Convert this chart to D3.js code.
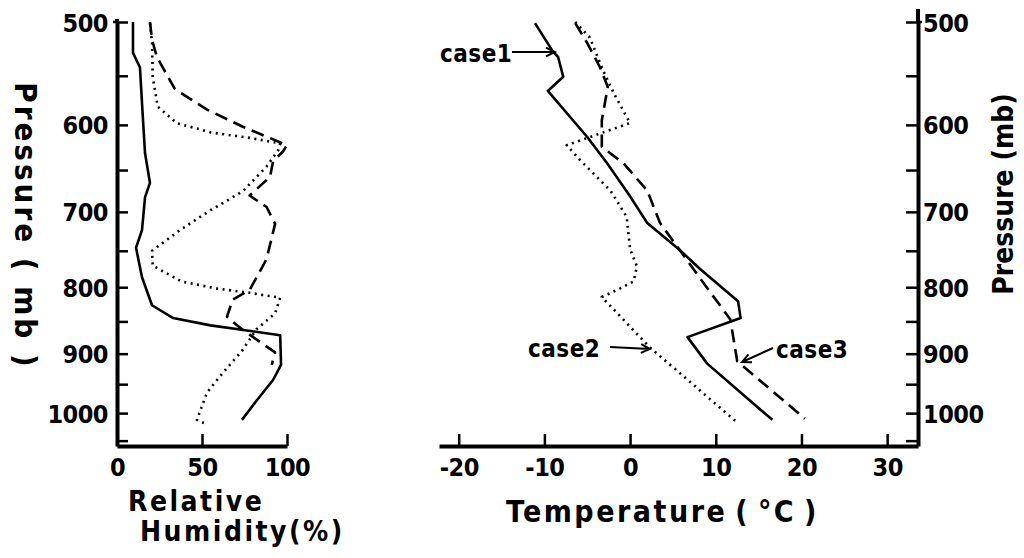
<!DOCTYPE html>
<html>
<head>
<meta charset="UTF-8">
<title>Soundings</title>
<script src="https://d3js.org/d3.v7.min.js"></script>
<style>
  body { margin: 0; background: #fff; }
  svg text {
    font-family: "DejaVu Sans Condensed", "DejaVu Sans", sans-serif;
    font-stretch: condensed;
    font-weight: bold;
    fill: #000;
  }
  .axis path, .axis line { stroke: #000; }
  .axis text { font-size: 25px; }
</style>
</head>
<body>
<svg id="chart" width="1024" height="558"></svg>
<script>
// pressure ticks (mb)
const pTicks = [500, 550, 600, 650, 700, 750, 800, 850, 900, 950, 1000, 1050];
const rhTicks = [0, 50, 100];
const tTicks = [-20, -10, 0, 10, 20, 30];

// relative humidity (%) profiles
const rh1P = [500, 528, 542, 595, 631, 665, 682, 723, 746, 786, 826, 845, 856, 871, 918, 943, 977, 1012];
const rh1  = [9.4, 9.4, 13.5, 15.3, 16.5, 19.4, 16.5, 14.7, 11.2, 14.7, 20.6, 33, 55, 96, 96.5, 91.8, 82.4, 73.5];
const rh2P = [501, 519, 551, 581, 598, 608, 614, 620, 627, 646, 675, 698, 723, 750, 770, 792, 802, 808, 815, 838, 862, 894, 932, 964, 1012, 1021];
const rh2  = [19.4, 20.6, 21, 24, 35, 55, 78, 96, 95, 88, 74, 55, 37, 20.6, 21, 38, 59, 78, 96, 93, 82, 74, 62, 53, 47, 53.5];
const rh3P = [500, 516, 532, 563, 584, 602, 622, 629, 640, 658, 680, 694, 715, 761, 804, 818, 843, 862, 898, 918];
const rh3  = [19.4, 20.6, 23.5, 34, 53, 74, 100, 97.6, 91.8, 90, 78, 88, 93, 88, 78, 68, 64.7, 73.5, 93, 91];

// temperature (degC) profiles
const t1P = [501, 527, 532, 551, 565, 613, 642, 681, 714, 749, 775, 820, 845, 874, 916, 1012];
const t1  = [-11.1, -9.0, -8.4, -7.8, -9.6, -5.0, -2.7, 0, 2.0, 5.8, 8.2, 12.6, 12.9, 6.7, 9.0, 16.6];
const t2P = [500, 514, 544, 569, 598, 622, 639, 674, 706, 748, 771, 792, 802, 814, 890, 1018];
const t2  = [-6.4, -4.7, -3.2, -1.8, 0, -7.4, -5.8, -2.3, -0.4, 0, 0.8, 0.4, -1.2, -3.3, 2.3, 12.6];
const t3P = [501, 519, 542, 561, 595, 624, 642, 674, 714, 746, 788, 847, 912, 1010];
const t3  = [-6.4, -5.0, -3.5, -2.6, -3.3, -3.3, -0.8, 2.0, 3.5, 5.6, 8.2, 11.7, 12.5, 20.4];

const svg = d3.select('#chart');

const y = d3.scaleLog().domain([500, 1060]).range([22, 446]);
const xRH = d3.scaleLinear().domain([0, 100]).range([117, 287]);
const xT = d3.scaleLinear().domain([-22.3, 33.6]).range([439, 918]);

const fmtP = d => d % 100 === 0 ? d : '';

// left pressure axis
const gL = svg.append('g').attr('class', 'axis')
  .attr('transform', `translate(${xRH(0)},0)`)
  .call(d3.axisLeft(y).tickValues(pTicks).tickFormat(fmtP).tickSize(-11).tickSizeOuter(0).tickPadding(9));
// bottom RH axis
const gB1 = svg.append('g').attr('class', 'axis')
  .attr('transform', `translate(0,${y(1060)})`)
  .call(d3.axisBottom(xRH).tickValues(rhTicks).tickSize(-12).tickSizeOuter(0).tickPadding(12));
// right pressure axis
const gR = svg.append('g').attr('class', 'axis')
  .attr('transform', `translate(${xT(33.6)},0)`)
  .call(d3.axisRight(y).tickValues(pTicks).tickFormat(fmtP).tickSize(-12).tickSizeOuter(0).tickPadding(5));
// bottom temperature axis
const gB2 = svg.append('g').attr('class', 'axis')
  .attr('transform', `translate(0,${y(1060)})`)
  .call(d3.axisBottom(xT).tickValues(tTicks).tickFormat(d => d < 0 ? '-' + Math.abs(d) : d)
    .tickSize(-12).tickSizeOuter(0).tickPadding(12));

[gL, gB1, gR, gB2].forEach(g => {
  g.select('.domain').attr('stroke-width', 4);
  g.selectAll('.tick line').attr('stroke-width', 2.5);
});
gL.selectAll('.tick text').attr('dy', '0.36em').style('letter-spacing', '-0.5px');
gR.selectAll('.tick text').attr('dy', '0.36em').style('letter-spacing', '-0.5px');
gB1.selectAll('.tick text').attr('dy', '0.72em').style('letter-spacing', '-0.5px');
gB2.selectAll('.tick text').attr('dy', '0.72em').style('letter-spacing', '-0.5px');

// axis extensions above 500 mb
svg.append('line').attr('x1', xRH(0)).attr('x2', xRH(0)).attr('y1', 19).attr('y2', y(500))
  .attr('stroke', '#000').attr('stroke-width', 4);
svg.append('line').attr('x1', xT(33.6)).attr('x2', xT(33.6)).attr('y1', 9).attr('y2', y(500))
  .attr('stroke', '#000').attr('stroke-width', 4);
svg.append('line').attr('x1', xRH(0) - 4).attr('x2', xRH(0)).attr('y1', y(500)).attr('y2', y(500))
  .attr('stroke', '#000').attr('stroke-width', 2.5);
svg.append('line').attr('x1', xT(33.6)).attr('x2', xT(33.6) + 4).attr('y1', y(500)).attr('y2', y(500))
  .attr('stroke', '#000').attr('stroke-width', 2.5);

const styles = {
  solid: null,
  dashed: '13,7',
  dotted: '2,4.5'
};

function profile(ps, vs, x, dash) {
  const line = d3.line().x(d => x(d[1])).y(d => y(d[0]));
  svg.append('path')
    .datum(ps.map((p, i) => [p, vs[i]]))
    .attr('d', line)
    .attr('fill', 'none')
    .attr('stroke', '#000')
    .attr('stroke-width', 2.6)
    .attr('stroke-linejoin', 'round')
    .attr('stroke-dasharray', dash);
}

profile(rh1P, rh1, xRH, styles.solid);
profile(rh2P, rh2, xRH, styles.dotted);
profile(rh3P, rh3, xRH, styles.dashed);
profile(t1P, t1, xT, styles.solid);
profile(t2P, t2, xT, styles.dotted);
profile(t3P, t3, xT, styles.dashed);

// titles
svg.append('text')
  .attr('transform', 'translate(15,226) rotate(90)')
  .attr('text-anchor', 'middle')
  .style('font-size', '31px').style('letter-spacing', '3px')
  .text('Pressure ( mb )');
svg.append('text')
  .attr('transform', 'translate(1013,194) rotate(-90)')
  .attr('text-anchor', 'middle')
  .style('font-size', '28px')
  .text('Pressure (mb)');
svg.append('text').attr('x', 128).attr('y', 511)
  .style('font-size', '28px').style('letter-spacing', '2.5px')
  .text('Relative');
svg.append('text').attr('x', 140).attr('y', 541)
  .style('font-size', '28px').style('letter-spacing', '2.5px')
  .text('Humidity(%)');
svg.append('text').attr('x', 506).attr('y', 522)
  .style('font-size', '30px').style('letter-spacing', '2.5px')
  .style('word-spacing', '-4px')
  .text('Temperature ( °C )');

// case labels with arrows
const arrows = [
  { text: 'case1', tx: 440, ty: 62, x1: 512, y1: 52, x2: 555, y2: 52 },
  { text: 'case2', tx: 528, ty: 357, x1: 610, y1: 347, x2: 650, y2: 349 },
  { text: 'case3', tx: 776, ty: 358, x1: 773, y1: 348, x2: 742, y2: 362 }
];
arrows.forEach(a => {
  svg.append('text').attr('x', a.tx).attr('y', a.ty)
    .style('font-size', '24px').style('letter-spacing', '0.5px')
    .text(a.text);
  const ang = Math.atan2(a.y2 - a.y1, a.x2 - a.x1);
  const hl = 10, spread = 0.45;
  svg.append('path')
    .attr('d', `M${a.x1},${a.y1}L${a.x2},${a.y2}` +
      `M${a.x2 - hl * Math.cos(ang - spread)},${a.y2 - hl * Math.sin(ang - spread)}L${a.x2},${a.y2}` +
      `L${a.x2 - hl * Math.cos(ang + spread)},${a.y2 - hl * Math.sin(ang + spread)}`)
    .attr('fill', 'none').attr('stroke', '#000').attr('stroke-width', 2);
});
</script>
</body>
</html>
